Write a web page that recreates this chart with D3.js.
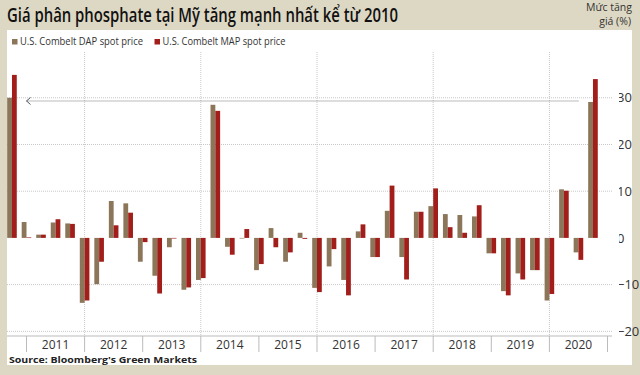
<!DOCTYPE html>
<html>
<head>
<meta charset="utf-8">
<script src="https://cdn.jsdelivr.net/npm/d3@7"></script>
<style>
  body { margin: 0; background: #ddd8c4; }
  svg { display: block; }
  text { font-family: "Open Sans", "Noto Sans", sans-serif; }
</style>
</head>
<body>
<svg></svg>
<script>
// quarterly % change, U.S. Cornbelt spot prices
let quarters = [
  '2010 Q4',
  '2011 Q1','2011 Q2','2011 Q3','2011 Q4',
  '2012 Q1','2012 Q2','2012 Q3','2012 Q4',
  '2013 Q1','2013 Q2','2013 Q3','2013 Q4',
  '2014 Q1','2014 Q2','2014 Q3','2014 Q4',
  '2015 Q1','2015 Q2','2015 Q3','2015 Q4',
  '2016 Q1','2016 Q2','2016 Q3','2016 Q4',
  '2017 Q1','2017 Q2','2017 Q3','2017 Q4',
  '2018 Q1','2018 Q2','2018 Q3','2018 Q4',
  '2019 Q1','2019 Q2','2019 Q3','2019 Q4',
  '2020 Q1','2020 Q2','2020 Q3','2020 Q4'
];

let dap = [
  30.0,
  3.4, 0.7, 3.3, 3.1,
  -13.9, -9.9, 7.9, 7.4,
  -5.1, -8.1, -2.0, -11.1,
  -9.0, 28.5, -1.9, -0.1,
  -6.9, 2.1, -5.1, 1.1,
  -10.7, -6.1, -9.0, 1.4,
  -4.1, 5.8, -4.1, 5.6,
  6.8, 5.1, 4.9, 4.6,
  -3.3, -11.4, -7.6, -6.9,
  -13.4, 10.4, -3.1, 29.1
];

let map = [
  34.9,
  0.1, 0.7, 4.0, 3.0,
  -13.4, -5.1, 2.7, 5.4,
  -0.9, -11.9, -0.1, -10.6,
  -8.6, 27.2, -3.6, 1.9,
  -5.6, -2.0, -3.1, -0.2,
  -11.6, -2.4, -12.3, 2.9,
  -4.1, 11.2, -8.9, 5.6,
  10.6, 2.3, 1.1, 7.0,
  -3.3, -12.3, -8.9, -6.9,
  -12.0, 10.1, -4.7, 34.0
];

let years = ['2011','2012','2013','2014','2015','2016','2017','2018','2019','2020'];
let yTicks = [-20, -10, 0, 10, 20, 30];
let seriesNames = ['U.S. Combelt DAP spot price', 'U.S. Combelt MAP spot price'];
let colors = ['#8c765a', '#a21e1a'];

let width = 640, height = 375;
let panel = {left: 7, top: 30, right: 632, bottom: 365};
let plot = {left: 7, right: 612, top: 52, bottom: 336};

let svg = d3.select('svg')
            .attr('width', width)
            .attr('height', height);

svg.append('rect')
   .attr('width', width).attr('height', height)
   .attr('fill', '#ddd8c4');

svg.append('rect')
   .attr('x', panel.left).attr('y', panel.top)
   .attr('width', panel.right - panel.left)
   .attr('height', panel.bottom - panel.top)
   .attr('fill', '#ffffff');

// quarter label -> fractional year
let toYear = q => +q.slice(0, 4) + (+q.slice(6) - 1) / 4;

let x = d3.scaleLinear().domain([2011, 2021]).range([26.5, 607.5]);
let y = d3.scaleLinear().domain([-21, 39.8]).range([plot.bottom, plot.top]);

// gridlines
let grid = svg.append('g').attr('stroke', '#c8c8c8').attr('stroke-dasharray', '1,1');
grid.selectAll('line.h')
    .data(yTicks.filter(d => d !== 0))
    .enter().append('line')
    .attr('x1', plot.left).attr('x2', plot.right)
    .attr('y1', d => y(d)).attr('y2', d => y(d));
grid.selectAll('line.v')
    .data(years.filter((d, i) => i % 2 === 1))
    .enter().append('line')
    .attr('x1', d => x(+d)).attr('x2', d => x(+d))
    .attr('y1', plot.top).attr('y2', plot.bottom);

// bars
let barW = 4.8;
let rows = quarters.map((q, i) => ({q: q, t: toYear(q), vals: [dap[i], map[i]]}));

let pair = svg.append('g').selectAll('g')
              .data(rows)
              .enter().append('g');

pair.selectAll('rect')
    .data(d => d.vals.map((v, k) => ({t: d.t, v: v, k: k})))
    .enter().append('rect')
    .attr('x', d => x(d.t) - barW + d.k * barW)
    .attr('width', barW)
    .attr('y', d => y(Math.max(0, d.v)))
    .attr('height', d => Math.max(0.6, Math.abs(y(d.v) - y(0))))
    .attr('fill', d => colors[d.k]);

// arrow back to 2010 level
let last = rows[rows.length - 1];
let ay = y(last.vals[0]) - 1;
let ax0 = x(2011), ax1 = x(last.t) - 14;
svg.append('line')
   .attr('x1', ax0).attr('x2', ax1)
   .attr('y1', ay).attr('y2', ay)
   .attr('stroke', '#777').attr('stroke-width', 1.2)
   .attr('stroke-dasharray', '1,1');
svg.append('path')
   .attr('d', `M${ax0 + 4},${ay - 3.5}L${ax0},${ay}L${ax0 + 4},${ay + 3.5}`)
   .attr('fill', 'none').attr('stroke', '#555').attr('stroke-width', 1);

// x axis: baseline, year separators, year labels
svg.append('line')
   .attr('x1', plot.left).attr('x2', plot.right)
   .attr('y1', plot.bottom).attr('y2', plot.bottom)
   .attr('stroke', '#bbb');
svg.append('g').selectAll('line')
   .data(d3.range(2011, 2022))
   .enter().append('line')
   .attr('x1', d => x(d)).attr('x2', d => x(d))
   .attr('y1', plot.bottom).attr('y2', 352)
   .attr('stroke', '#bbb');
svg.append('g').selectAll('text')
   .data(years)
   .enter().append('text')
   .attr('x', d => x(+d + 0.5))
   .attr('y', 349)
   .attr('text-anchor', 'middle')
   .attr('font-size', 12)
   .attr('fill', '#333')
   .text(d => d);

// right y axis
svg.append('clipPath').attr('id', 'panelClip')
   .append('rect')
   .attr('x', panel.left).attr('y', panel.top)
   .attr('width', panel.right - panel.left)
   .attr('height', panel.bottom - panel.top);

let yAxis = d3.axisRight(y)
              .tickValues(yTicks)
              .tickSize(3)
              .tickPadding(2)
              .tickFormat(d3.format('d'));
let ya = svg.append('g')
            .attr('transform', 'translate(' + plot.right + ',0)')
            .attr('clip-path', 'url(#panelClip)')
            .call(yAxis);
ya.select('.domain').attr('stroke', '#777').attr('d', `M0,${plot.top}V${plot.bottom}`);
ya.selectAll('.tick line').attr('stroke', '#333').attr('stroke-width', 1.4);
ya.selectAll('.tick text')
  .attr('font-family', '"Open Sans", sans-serif')
  .attr('font-size', 13)
  .attr('fill', '#333');
ya.selectAll('line.minor')
  .data(yTicks.slice(0, -1).map(d => d + 5))
  .enter().append('line')
  .attr('x1', 0).attr('x2', 2)
  .attr('y1', d => y(d)).attr('y2', d => y(d))
  .attr('stroke', '#777');

// legend
let legend = svg.append('g').selectAll('g')
                .data(seriesNames)
                .enter().append('g')
                .attr('transform', (d, i) => 'translate(' + (12 + i * 142.5) + ',39)');
legend.append('rect')
      .attr('width', 5.5).attr('height', 5.5)
      .attr('fill', (d, i) => colors[i]);
legend.append('text')
      .attr('x', 8).attr('y', 6)
      .attr('font-size', 11)
      .attr('fill', '#333')
      .attr('textLength', 123)
      .attr('lengthAdjust', 'spacingAndGlyphs')
      .text(d => d);

// title and unit
svg.append('text')
   .attr('x', 7).attr('y', 22)
   .attr('font-size', 19)
   .attr('font-weight', 600)
   .attr('fill', '#111')
   .attr('textLength', 391)
   .attr('lengthAdjust', 'spacingAndGlyphs')
   .text('Giá phân phosphate tại Mỹ tăng mạnh nhất kể từ 2010');

svg.append('text')
   .attr('x', 632).attr('y', 10.5)
   .attr('text-anchor', 'end')
   .attr('font-size', 10.5)
   .attr('fill', '#333')
   .text('Mức tăng');
svg.append('text')
   .attr('x', 631).attr('y', 25)
   .attr('text-anchor', 'end')
   .attr('font-size', 10.5)
   .attr('fill', '#333')
   .text('giá (%)');

// source
svg.append('text')
   .attr('x', 9).attr('y', 363)
   .attr('font-family', '"DejaVu Sans", Verdana, sans-serif')
   .attr('font-weight', 'bold')
   .attr('font-size', 9.5)
   .attr('fill', '#222')
   .attr('textLength', 188)
   .attr('lengthAdjust', 'spacingAndGlyphs')
   .text("Source: Bloomberg's Green Markets");
</script>
</body>
</html>
